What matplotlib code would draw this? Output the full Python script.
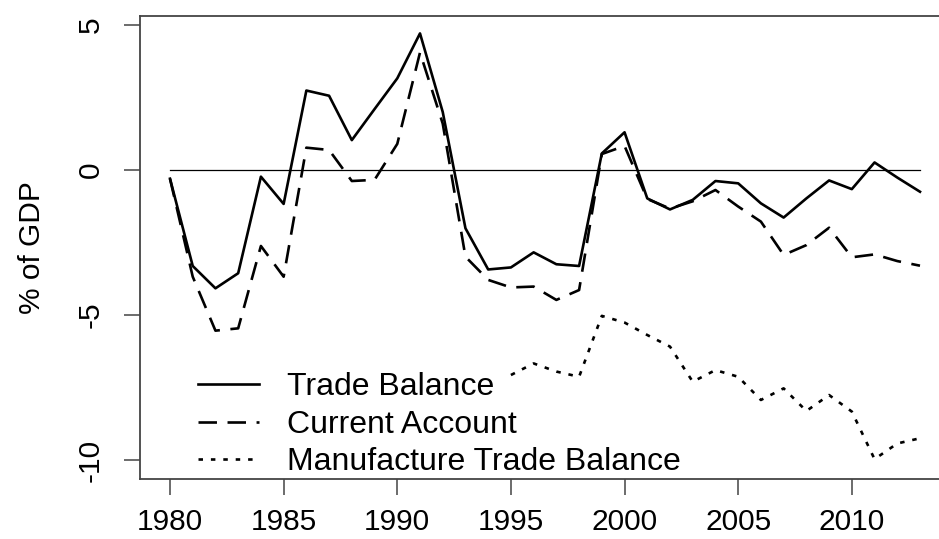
import numpy as np
import matplotlib
matplotlib.use("Agg")
from matplotlib import pyplot as plt

plt.rcParams['font.family'] = ['Liberation Sans', 'DejaVu Sans']
plt.rcParams['axes.unicode_minus'] = False

years = list(range(1980, 2014))
trade_balance = [-0.3, -3.31, -4.08, -3.56, -0.23, -1.17, 2.74, 2.56, 1.03, 2.1,
                 3.16, 4.71, 2.0, -2.01, -3.43, -3.36, -2.84, -3.25, -3.31, 0.57,
                 1.30, -0.98, -1.36, -1.03, -0.38, -0.46, -1.15, -1.64, -0.98, -0.36,
                 -0.66, 0.26, -0.26, -0.75]
current_account = [-0.3, -3.68, -5.54, -5.46, -2.62, -3.68, 0.77, 0.69, -0.38, -0.34,
                   0.9, 4.05, 1.6, -2.99, -3.79, -4.05, -4.02, -4.48, -4.14, 0.55,
                   0.83, -1.0, -1.33, -1.08, -0.69, -1.26, -1.78, -2.93, -2.59, -1.99,
                   -3.01, -2.91, -3.14, -3.30]
manuf_years = list(range(1995, 2014))
manuf_balance = [-7.07, -6.67, -6.95, -7.13, -5.03, -5.26, -5.69, -6.09, -7.30, -6.90,
                 -7.13, -7.93, -7.53, -8.31, -7.76, -8.33, -9.97, -9.43, -9.25]
ref_years = [years[0], years[-1]]
ref_level = [0, 0]

fig = plt.figure(figsize=(9.39, 5.39), dpi=100)
ax = fig.add_axes([140 / 939, 60 / 539, 810 / 939, 463 / 539])

ax.plot(ref_years, ref_level, color='black', lw=0.9)
ax.plot(years, trade_balance, color='black', lw=1.9, label='Trade Balance')
ax.plot(years, current_account, color='black', lw=1.9, dashes=(7, 4),
        label='Current Account')
ax.plot(manuf_years, manuf_balance, color='black', lw=1.9, dashes=(1.7, 3.0),
        label='Manufacture Trade Balance')

ax.set_xlim(1978.68, 2014.32)
ax.set_ylim(-10.655, 5.31)
ax.set_xticks(range(1980, 2011, 5))
ax.set_yticks([-10, -5, 0, 5])

for s in ['left', 'bottom', 'top']:
    ax.spines[s].set_color('#444444')
    ax.spines[s].set_linewidth(1.3)
ax.spines['right'].set_visible(False)

ax.tick_params(axis='both', length=11.5, width=1.1, color='#444444', labelsize=21.5)
ax.tick_params(axis='x', pad=9.5)
ax.tick_params(axis='y', pad=14)
for lbl in ax.get_yticklabels():
    lbl.set_rotation(90)
    lbl.set_va('center')

ax.set_ylabel('% of GDP', fontsize=21.5, labelpad=22)

ax.legend(loc='lower left', bbox_to_anchor=(0.052, -0.031), frameon=False,
          fontsize=23, handlelength=1.9, handletextpad=0.87, labelspacing=0.24,
          borderpad=0)

fig.savefig('out.png', dpi=100)
